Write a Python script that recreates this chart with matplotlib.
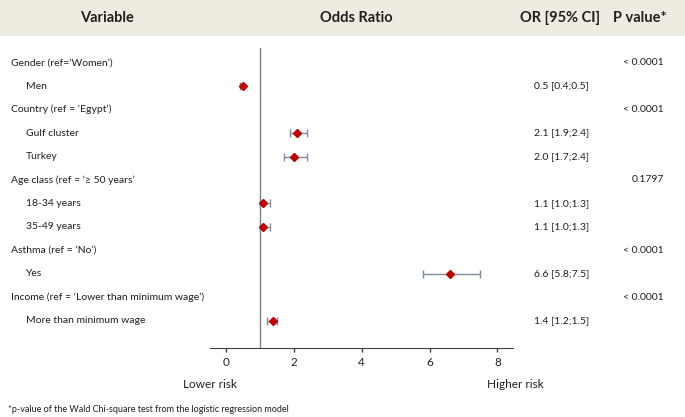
import matplotlib
matplotlib.use('Agg')
import matplotlib.pyplot as plt
import matplotlib.transforms as mtransforms
from matplotlib.patches import Rectangle

plt.rcParams['font.family'] = ['Lato', 'DejaVu Sans']

# rows from top to bottom
labels = ["Gender (ref=\u2018Women\u2019)", "Men",
          "Country (ref = \u2018Egypt\u2019)", "Gulf cluster", "Turkey",
          "Age class (ref = \u2018\u2265 50 years\u2019", "18-34 years", "35-49 years",
          "Asthma (ref = \u2018No\u2019)", "Yes",
          "Income (ref = \u2018Lower than minimum wage\u2019)", "More than minimum wage"]
is_header = [True, False, True, False, False, True, False, False, True, False, True, False]
odds = [None, 0.5, None, 2.1, 2.0, None, 1.1, 1.1, None, 6.6, None, 1.4]
ci_low = [None, 0.4, None, 1.9, 1.7, None, 1.0, 1.0, None, 5.8, None, 1.2]
ci_high = [None, 0.5, None, 2.4, 2.4, None, 1.3, 1.3, None, 7.5, None, 1.5]
or_text = ["", "0.5 [0.4;0.5]", "", "2.1 [1.9;2.4]", "2.0 [1.7;2.4]", "",
           "1.1 [1.0;1.3]", "1.1 [1.0;1.3]", "", "6.6 [5.8;7.5]", "", "1.4 [1.2;1.5]"]
p_text = ["< 0.0001", "", "< 0.0001", "", "", "0.1797", "", "", "< 0.0001", "", "< 0.0001", ""]
xticks = [0, 2, 4, 6, 8]

W, H = 685, 417
fig = plt.figure(figsize=(W / 100, H / 100), dpi=100)

def fx(px):
    return px / W

def fy(py):
    return 1 - py / H

txt_color = '#1f1f1f'

# header band
fig.patches.append(Rectangle((0, fy(36)), 1, 36 / H, transform=fig.transFigure,
                             facecolor='#EEECE1', edgecolor='none', zorder=0))
for x, s in [(107, 'Variable'), (356, 'Odds Ratio'), (560, 'OR [95% CI]'), (640, 'P value*')]:
    fig.text(fx(x), fy(18), s, ha='center', va='center', fontsize=10.5,
             fontweight='bold', color=txt_color)

# forest plot axes
ax = fig.add_axes([fx(210), fy(347.7), fx(513) - fx(210), (347.7 - 48) / H])
ax.set_xlim(-0.47, 8.46)
ax.set_ylim(12.15, -0.625)
for s in ['top', 'right', 'left']:
    ax.spines[s].set_visible(False)
ax.spines['bottom'].set_color('#404040')
ax.set_yticks([])
ax.set_xticks(xticks)
ax.tick_params(axis='x', direction='out', length=3, width=1, color='#404040',
               labelsize=8.5, labelcolor=txt_color, pad=4)
ax.patch.set_alpha(0)

ax.axvline(1, color='#808080', lw=1, zorder=1)

rows = [i for i, v in enumerate(odds) if v is not None]
vals = [odds[i] for i in rows]
lo = [odds[i] - ci_low[i] for i in rows]
hi = [ci_high[i] - odds[i] for i in rows]
ax.errorbar(vals, rows, xerr=[lo, hi], fmt='none', ecolor='#7F8B9E',
            elinewidth=1, capsize=3, capthick=1, zorder=2)
ax.plot(vals, rows, 'D', color='#C00000', markersize=4.5, zorder=3)

# text columns
tr = mtransforms.blended_transform_factory(fig.transFigure, ax.transData)
for i, lab in enumerate(labels):
    x = fx(11) if is_header[i] else fx(26)
    ax.text(x, i, lab, transform=tr, ha='left', va='center', fontsize=7.5,
            color=txt_color, clip_on=False)
    if or_text[i]:
        ax.text(fx(534), i, or_text[i], transform=tr, ha='left', va='center',
                fontsize=7.5, color=txt_color, clip_on=False)
    if p_text[i]:
        ax.text(fx(664), i, p_text[i], transform=tr, ha='right', va='center',
                fontsize=7.5, color=txt_color, clip_on=False)

fig.text(fx(210), fy(384), 'Lower risk', ha='center', va='center', fontsize=8.5, color=txt_color)
fig.text(fx(515), fy(384), 'Higher risk', ha='center', va='center', fontsize=8.5, color=txt_color)
fig.text(fx(8), fy(409), '*p-value of the Wald Chi-square test from the logistic regression model',
         ha='left', va='center', fontsize=6.5, color=txt_color)

fig.savefig('out.png', dpi=100)
